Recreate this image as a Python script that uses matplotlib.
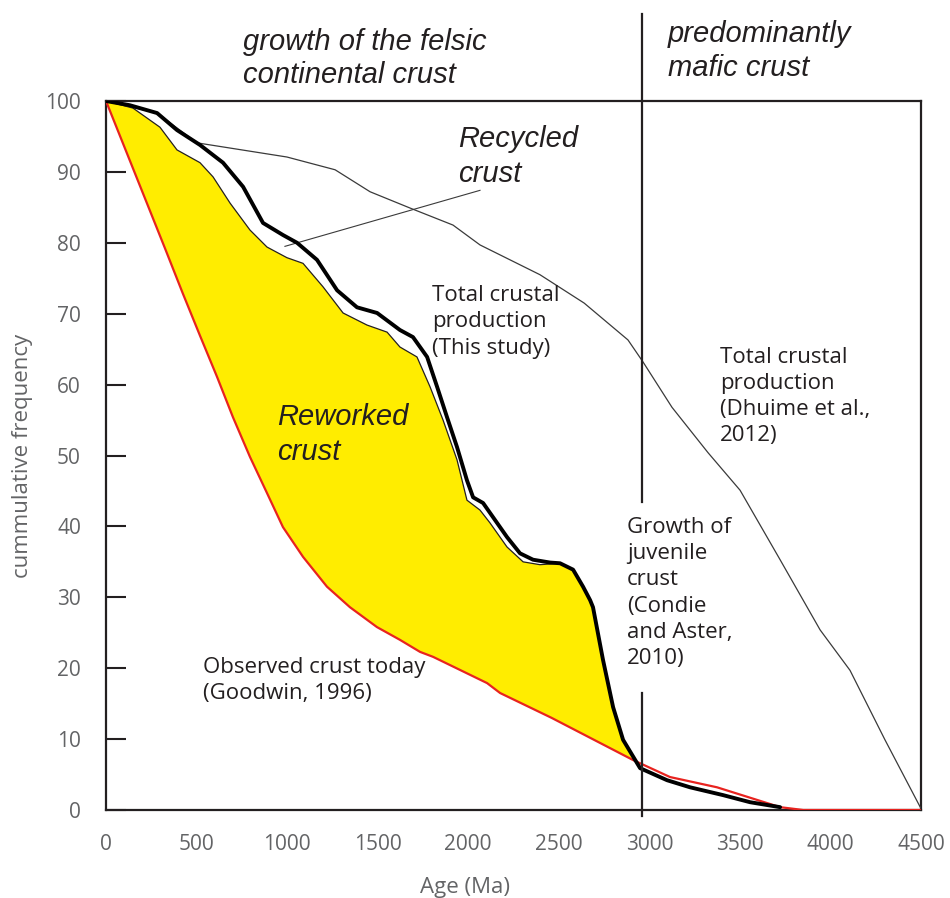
import numpy as np
import matplotlib.pyplot as plt
from matplotlib.ticker import FixedLocator

# observed crust today (Goodwin, 1996) - red
red_age = [0, 326, 425, 519, 613, 701, 795, 889, 977, 1088, 1220, 1347, 1496, 1623, 1734,
           1806, 2104, 2176, 2460, 2910, 3114, 3374, 3722, 3850, 4500]
red_freq = [100, 79.2, 72.8, 66.9, 61.1, 55.4, 49.8, 44.7, 39.9, 35.7, 31.5, 28.6, 25.8, 24.0,
            22.3, 21.6, 17.9, 16.5, 13.0, 7.05, 4.65, 3.2, 0.4, 0.0, 0.0]

# total crustal production (this study) - thick black
tot_age = [0, 132, 282, 392, 519, 646, 757, 867, 977, 1055, 1165, 1276, 1386, 1497, 1623,
           1695, 1773, 1828, 1883, 1938, 1993, 2027, 2082, 2137, 2214, 2286, 2358, 2452, 2507,
           2579, 2634, 2673, 2689, 2744, 2800, 2855, 2949, 3098, 3225, 3407, 3556, 3722]
tot_freq = [100, 99.4, 98.3, 95.9, 93.8, 91.3, 87.9, 82.8, 81.1, 80.0, 77.6, 73.3, 70.9, 70.1,
            67.7, 66.7, 63.9, 59.7, 55.4, 51.2, 46.5, 44.1, 43.3, 41.3, 38.5, 36.2, 35.3, 34.9,
            34.8, 33.9, 31.5, 29.6, 28.6, 21.2, 14.5, 9.9, 5.9, 4.2, 3.2, 2.1, 1.1, 0.4]

# thin line under it (top of reworked crust)
thin_age = [0, 149, 298, 392, 519, 591, 685, 795, 889, 999, 1088, 1198, 1309, 1441, 1552,
            1623, 1717, 1789, 1861, 1938, 1993, 2065, 2120, 2214, 2303, 2396, 2507]
thin_freq = [100, 99.0, 96.3, 93.1, 91.3, 89.3, 85.6, 81.8, 79.4, 77.9, 77.1, 73.8, 70.1, 68.4,
             67.4, 65.3, 63.9, 59.7, 55.0, 49.4, 43.7, 42.3, 40.5, 37.1, 35.0, 34.6, 34.8]

# Dhuime et al. 2012
dh_age = [0, 282, 502, 999, 1265, 1458, 1679, 1916, 2065, 2396, 2640, 2882, 2965, 3125,
          3324, 3501, 3722, 3943, 4108, 4301, 4500]
dh_freq = [100, 98.3, 94.1, 92.1, 90.3, 87.2, 84.9, 82.5, 79.7, 75.5, 71.5, 66.3, 63.2, 56.8,
           50.4, 45.1, 35.3, 25.4, 19.7, 9.9, 0.2]

x_ticks = [0, 500, 1000, 1500, 2000, 2500, 3000, 3500, 4000, 4500]
y_ticks = [0, 10, 20, 30, 40, 50, 60, 70, 80, 90, 100]

txt_c = '#231f20'
grey = '#636466'
sans = ['Open Sans', 'DejaVu Sans']
ital = ['Liberation Sans', 'DejaVu Sans']

fig = plt.figure(figsize=(9.5, 8.98), dpi=100)
ax = fig.add_axes([106/950, 1-810/898, 815/950, 709/898])

# yellow area: thin line down to ~2500, thick line to the red, back along red
k0 = tot_age.index(2579)
k1 = tot_age.index(2855) + 1
r1 = red_age.index(2910)
poly_x = thin_age + tot_age[k0:k1] + [red_age[r1]] + red_age[:r1][::-1]
poly_y = thin_freq + tot_freq[k0:k1] + [red_freq[r1]] + red_freq[:r1][::-1]
ax.fill(poly_x, poly_y, color='#ffed00', lw=0, zorder=1)

ax.plot(red_age, red_freq, color='#e8231f', lw=1.6, zorder=3)
ax.plot(thin_age, thin_freq, color='#231f20', lw=0.9, zorder=3)
ax.plot(dh_age, dh_freq, color='#3a3a3a', lw=0.9, zorder=3)
ax.plot(tot_age, tot_freq, color='black', lw=2.8, zorder=4,
        solid_capstyle='round', solid_joinstyle='round')

# pointer to recycled crust
ax.plot([988, 2065], [79.5, 87.4], color='#3a3a3a', lw=0.8, zorder=3)

# boundary felsic / mafic
ax.plot([2960, 2960], [-0.8, 16.5], color='#231f20', lw=1.6, clip_on=False, zorder=5)
ax.plot([2960, 2960], [43.4, 112.3], color='#231f20', lw=1.6, clip_on=False, zorder=5)

ax.set_xlim(0, 4500)
ax.set_ylim(0, 100)
for s in ax.spines.values():
    s.set_linewidth(1.6)
    s.set_color('#231f20')

ax.set_xticks(x_ticks)
ax.set_xticklabels([str(t) for t in x_ticks])
ax.xaxis.set_minor_locator(FixedLocator([1000, 2000, 3000, 4000]))
ax.tick_params(axis='x', which='major', length=0, pad=17, labelsize=15, labelcolor=grey)
ax.tick_params(axis='x', which='minor', direction='in', length=17, width=1.5, color='#231f20')
ax.set_yticks(y_ticks)
ax.tick_params(axis='y', direction='in', length=14.5, width=1.5, color='#231f20', pad=18,
               labelsize=15, labelcolor=grey)
for lab in ax.get_xticklabels() + ax.get_yticklabels():
    lab.set_family(sans)

fig.text(465/950, 1-887/898, 'Age (Ma)', fontsize=16, color=grey, family=sans,
         ha='center', va='center')
fig.text(23/950, 1-456/898, 'cummulative frequency', fontsize=16, color=grey, family=sans,
         ha='center', va='center', rotation=90)

kw_i = dict(fontsize=21, style='italic', family=ital, color=txt_c, va='top', ha='left',
            clip_on=False)
ax.text(756, 110.3, 'growth of the felsic\ncontinental crust', linespacing=1.25, **kw_i)
ax.text(3103, 111.4, 'predominantly\nmafic crust', linespacing=1.25, **kw_i)
ax.text(1944, 96.6, 'Recycled\ncrust', linespacing=1.3, **kw_i)
ax.text(944, 57.4, 'Reworked\ncrust', linespacing=1.3, **kw_i)

kw_n = dict(fontsize=16, family=sans, color=txt_c, va='top', ha='left', linespacing=1.32)
ax.text(1800, 74.0, 'Total crustal\nproduction\n(This study)', **kw_n)
ax.text(3390, 65.3, 'Total crustal\nproduction\n(Dhuime et al.,\n2012)', **kw_n)
ax.text(2877, 41.3, 'Growth of\njuvenile\ncrust\n(Condie\nand Aster,\n2010)', **kw_n)
ax.text(536, 21.6, 'Observed crust today\n(Goodwin, 1996)', **kw_n)

fig.savefig('out.png', dpi=100)
